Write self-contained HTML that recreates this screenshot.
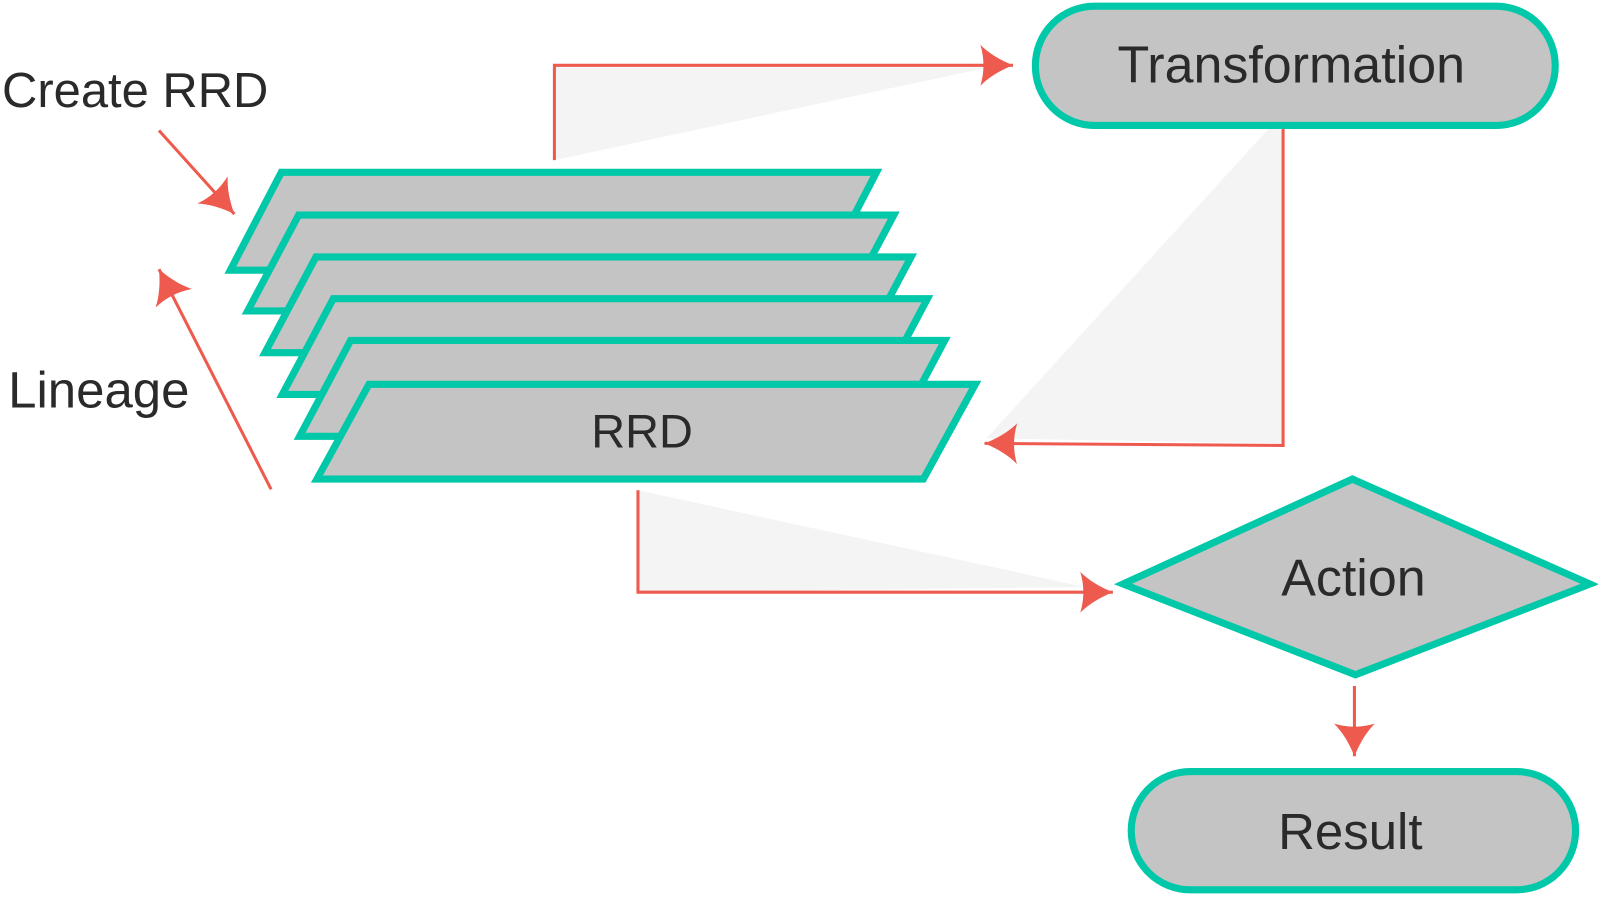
<!DOCTYPE html>
<html><head><meta charset="utf-8"><style>
html,body{margin:0;padding:0;background:#fff;}
svg{display:block;}
text{font-family:"Liberation Sans",sans-serif;fill:#2a2a2a;}
</style></head><body>
<svg width="1598" height="897" viewBox="0 0 1568 880" xmlns="http://www.w3.org/2000/svg">
<defs>
<marker id="a" markerUnits="userSpaceOnUse" markerWidth="40" markerHeight="44" refX="36" refY="22" orient="auto" viewBox="0 0 40 44">
<path d="M36,22 Q16,14 4,2 Q10,22 4,42 Q16,30 36,22Z" fill="#EE5A4E"/>
</marker>
</defs>
<polygon points="544,157 544,66 970,66" fill="#F4F4F4"/>
<polygon points="1245,126 1259,126 1259,435 968,430" fill="#F4F4F4"/>
<polygon points="626,481 1065,576 626,581" fill="#F4F4F4"/>
<g stroke="#EE5A4E" stroke-width="3" fill="none">
<polyline points="544,157 544,64 994,64" marker-end="url(#a)"/>
<polyline points="1259,126 1259,437 966,435" marker-end="url(#a)"/>
<polyline points="626,481 626,581 1092,581" marker-end="url(#a)"/>
<line x1="1329" y1="673" x2="1329" y2="742" marker-end="url(#a)"/>
<line x1="156" y1="128" x2="230" y2="210" marker-end="url(#a)"/>
<line x1="266" y1="480" x2="156" y2="264" marker-end="url(#a)"/>
</g>
<g fill="#C4C4C4" stroke="#00C8A8" stroke-width="7" stroke-linejoin="miter">
<polygon points="276,169 860,169 810,265 226,265"/>
<polygon points="293,211 877,211 827,305 243,305"/>
<polygon points="310,252 894,252 844,346 260,346"/>
<polygon points="327,293 910,293 860,387 277,387"/>
<polygon points="344,334 927,334 877,428 294,428"/>
<polygon points="362,377 957,377 906,470 311,470"/>
</g>
<text x="630" y="439" font-size="46" text-anchor="middle">RRD</text>
<rect x="1016" y="6" width="510" height="117" rx="58" fill="#C4C4C4" stroke="#00C8A8" stroke-width="7"/>
<text x="1267" y="81" font-size="51" text-anchor="middle">Transformation</text>
<polygon points="1102,573 1327,470 1560,573 1330,662" fill="#C4C4C4" stroke="#00C8A8" stroke-width="7"/>
<text x="1328" y="584" font-size="51" text-anchor="middle">Action</text>
<rect x="1110" y="757" width="436" height="116" rx="58" fill="#C4C4C4" stroke="#00C8A8" stroke-width="7"/>
<text x="1325" y="833" font-size="50" text-anchor="middle">Result</text>
<text x="2" y="105" font-size="48">Create RRD</text>
<text x="8" y="400" font-size="50">Lineage</text>
</svg>
</body></html>
